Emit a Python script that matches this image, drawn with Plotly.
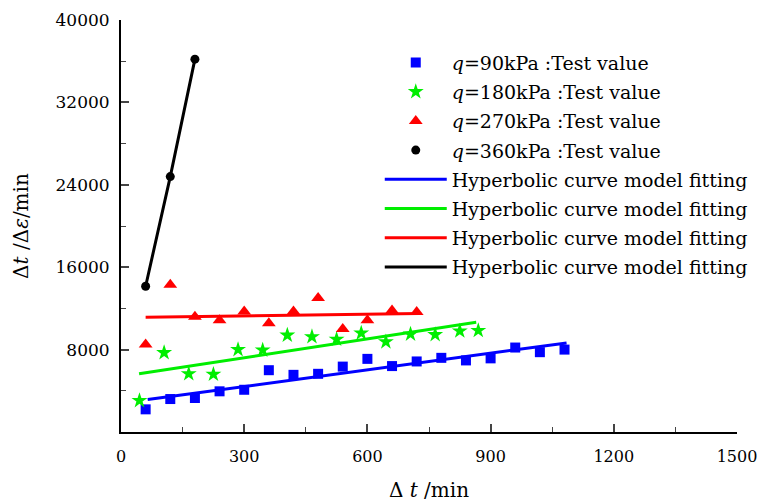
import plotly.graph_objects as go

# ---- data ----
t90 = [60, 120, 180, 240, 300, 360, 420, 480, 540, 600, 660, 720, 780, 840, 900, 960, 1020, 1080]
v90 = [2200, 3200, 3300, 3950, 4100, 6000, 5550, 5650, 6350, 7100, 6400, 6850, 7200, 6950, 7150, 8200, 7750, 8000]

t180 = [45, 105, 165, 225, 285, 345, 405, 465, 525, 585, 645, 705, 765, 825, 870]
v180 = [3050, 7700, 5650, 5600, 8000, 7950, 9400, 9250, 9000, 9600, 8750, 9500, 9450, 9800, 9850]

t270 = [60, 120, 180, 240, 300, 360, 420, 480, 540, 600, 660, 720]
v270 = [8500, 14300, 11200, 10850, 11700, 10550, 11700, 13000, 10000, 10850, 11800, 11650]

t360 = [60, 120, 180]
v360 = [14150, 24800, 36200]

fit90_t = [65, 1085]
fit90_v = [3150, 8650]
fit180_t = [44, 865]
fit180_v = [5650, 10650]
fit270_t = [60, 725]
fit270_v = [11150, 11500]
fit360_t = [60, 120, 180]
fit360_v = [14150, 24800, 36200]

x_ticks = [0, 300, 600, 900, 1200, 1500]
x_labels = ["0", "300", "600", "900", "1200", "1500"]
y_ticks = [8000, 16000, 24000, 32000, 40000]
y_labels = ["8000", "16000", "24000", "32000", "40000"]

test_names = ["<i>q</i>=90kPa :Test value", "<i>q</i>=180kPa :Test value",
              "<i>q</i>=270kPa :Test value", "<i>q</i>=360kPa :Test value"]
fit_name = "Hyperbolic curve model fitting"

BLUE = "#0000ff"
GREEN = "#00ee00"
RED = "#ff0000"
BLACK = "#000000"

FONT = "DejaVu Serif"

fig = go.Figure()

fig.add_trace(go.Scatter(x=t90, y=v90, mode="markers", name=test_names[0], legendgroup="a",
                         marker=dict(symbol="square", size=10, color=BLUE)))
fig.add_trace(go.Scatter(x=t180, y=v180, mode="markers", name=test_names[1], legendgroup="b",
                         marker=dict(symbol="star", size=12, color=GREEN)))
fig.add_trace(go.Scatter(x=t270, y=v270, mode="markers", name=test_names[2], legendgroup="c",
                         marker=dict(symbol="triangle-up", size=12, color=RED)))
fig.add_trace(go.Scatter(x=t360, y=v360, mode="markers", name=test_names[3], legendgroup="d",
                         marker=dict(symbol="circle", size=9, color=BLACK)))

for i, (tt, vv, c) in enumerate([(fit90_t, fit90_v, BLUE), (fit180_t, fit180_v, GREEN),
                                 (fit270_t, fit270_v, RED), (fit360_t, fit360_v, BLACK)]):
    fig.add_trace(go.Scatter(x=tt, y=vv, mode="lines", name=fit_name, legendgroup="f%d" % i,
                             line=dict(color=c, width=3)))

fig.update_layout(
    width=758, height=502,
    margin=dict(l=121, r=21, t=20, b=70, autoexpand=False),
    paper_bgcolor="white", plot_bgcolor="white",
    font=dict(family=FONT, size=17, color="black"),
    showlegend=True,
    legend=dict(xref="container", yref="container", x=0.501, y=0.913,
                xanchor="left", yanchor="top",
                bgcolor="rgba(0,0,0,0)", font=dict(family=FONT, size=19),
                itemwidth=62, tracegroupgap=1.5),
    xaxis=dict(range=[0, 1500], tickvals=x_ticks, ticktext=x_labels, ticks="inside", ticklen=8,
               tickwidth=1.5, showline=True, linecolor="black", linewidth=2,
               showgrid=False, zeroline=False, mirror=False, ticklabeloverflow="allow",
               automargin=False, ticklabelstandoff=9,
               minor=dict(dtick=150, tick0=0, ticks="inside", ticklen=5, tickwidth=1.2),
               title=dict(text="Δ <i>t</i> /min", font=dict(family=FONT, size=20), standoff=30),
               tickfont=dict(family=FONT, size=16)),
    yaxis=dict(range=[0, 40000], tickvals=y_ticks, ticktext=y_labels, ticks="inside", ticklen=8,
               tickwidth=1.5, showline=True, linecolor="black", linewidth=2,
               showgrid=False, zeroline=False, mirror=False, ticklabeloverflow="allow",
               automargin=False, ticklabelstandoff=6,
               minor=dict(dtick=4000, tick0=0, ticks="inside", ticklen=5, tickwidth=1.2),
               title=dict(text="Δ<i>t</i> /Δ<i>ε</i>/min", font=dict(family=FONT, size=20), standoff=22),
               tickfont=dict(family=FONT, size=17)),
)

fig.write_html("out.html")
